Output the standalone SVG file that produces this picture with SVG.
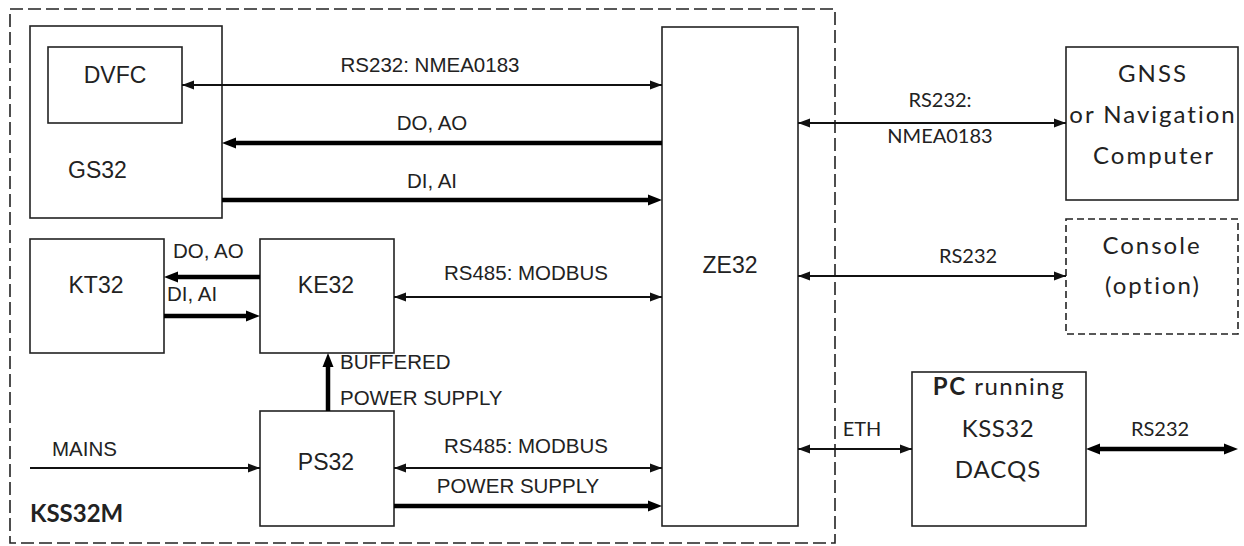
<svg xmlns="http://www.w3.org/2000/svg" width="1244" height="546" viewBox="0 0 1244 546">
<style>
.box{fill:#fff;stroke:#222;stroke-width:1.6}
.dash{fill:none;stroke:#222;stroke-width:1.6;stroke-dasharray:13 5}
.dash2{fill:#fff;stroke:#222;stroke-width:1.6;stroke-dasharray:7 4}
.thin{stroke:#111;stroke-width:2;fill:none}
.thick{stroke:#000;stroke-width:4.5;fill:none}
.a{font-family:"Liberation Sans",Arial,sans-serif;fill:#222}
.bl{font-size:23px}
.cl{font-size:20.5px}
.c{font-family:Lato,"Noto Sans",sans-serif;fill:#222}
.big{font-size:24px;letter-spacing:2px}
.mid{text-anchor:middle}
</style>
<defs>
<marker id="ah" markerUnits="userSpaceOnUse" markerWidth="14" markerHeight="10" refX="12" refY="5" orient="auto-start-reverse">
<path d="M0,0.5 L12,5 L0,9.5 z" fill="#111"/>
</marker>
<marker id="aht" markerUnits="userSpaceOnUse" markerWidth="16" markerHeight="12" refX="5" refY="6" orient="auto-start-reverse">
<path d="M0,0.5 L14,6 L0,11.5 z" fill="#000"/>
</marker>
</defs>
<rect width="1244" height="546" fill="#fff"/>
<g id="kss32m">
<rect class="dash" x="10" y="9" width="825" height="534"/>
<text class="c" x="30" y="522" font-size="24" font-weight="bold">KSS32M</text>
</g>
<g id="gs32">
<rect class="box" x="30" y="26" width="192" height="192"/>
<text class="a bl" x="68" y="178">GS32</text>
</g>
<g id="dvfc">
<rect class="box" x="48" y="47" width="134" height="76"/>
<text class="a bl mid" x="115" y="83">DVFC</text>
</g>
<g id="ze32">
<rect class="box" x="662" y="27" width="136" height="499"/>
<text class="a bl mid" x="730" y="273">ZE32</text>
</g>
<g id="kt32">
<rect class="box" x="30" y="239" width="134" height="114"/>
<text class="a bl mid" x="96" y="293">KT32</text>
</g>
<g id="ke32">
<rect class="box" x="260" y="239" width="134" height="114"/>
<text class="a bl mid" x="326" y="293">KE32</text>
</g>
<g id="ps32">
<rect class="box" x="260" y="411" width="134" height="115"/>
<text class="a bl mid" x="326" y="470">PS32</text>
</g>
<g id="gnss">
<rect class="box" x="1066" y="47" width="172" height="153"/>
<text class="c big mid" x="1153" y="82">GNSS</text>
<text class="c big mid" x="1153" y="123">or Navigation</text>
<text class="c big mid" x="1154" y="164">Computer</text>
</g>
<g id="console">
<rect class="dash2" x="1066" y="219" width="172" height="115"/>
<text class="c big mid" x="1152" y="254">Console</text>
<text class="c big mid" x="1153" y="294">(option)</text>
</g>
<g id="pc">
<rect class="box" x="912" y="372" width="174" height="154"/>
<text class="c mid" x="999" y="395" font-size="24" letter-spacing="1.5"><tspan font-weight="bold">PC</tspan> running</text>
<text class="c mid" x="998" y="437" font-size="24" letter-spacing="0.5">KSS32</text>
<text class="c mid" x="998" y="478" font-size="24" letter-spacing="1">DACQS</text>
</g>
<g id="connectors">
<line class="thin" x1="182" y1="85" x2="662" y2="85" marker-start="url(#ah)" marker-end="url(#ah)"/>
<text class="a cl mid" x="430" y="72">RS232: NMEA0183</text>
<line class="thick" x1="662" y1="143" x2="231" y2="143" marker-end="url(#aht)"/>
<text class="a cl mid" x="432" y="130">DO, AO</text>
<line class="thick" x1="222" y1="200" x2="653" y2="200" marker-end="url(#aht)"/>
<text class="a cl mid" x="432" y="188">DI, AI</text>
<line class="thick" x1="260" y1="277" x2="173" y2="277" marker-end="url(#aht)"/>
<text class="a cl" x="173" y="258">DO, AO</text>
<line class="thick" x1="164" y1="316" x2="251" y2="316" marker-end="url(#aht)"/>
<text class="a cl" x="167" y="301">DI, AI</text>
<line class="thin" x1="394" y1="297" x2="662" y2="297" marker-start="url(#ah)" marker-end="url(#ah)"/>
<text class="a cl mid" x="526" y="280">RS485: MODBUS</text>
<line class="thick" x1="328" y1="411" x2="328" y2="362" marker-end="url(#aht)"/>
<text class="a cl" x="340" y="369">BUFFERED</text>
<text class="a cl" x="340" y="405">POWER SUPPLY</text>
<line class="thin" x1="30" y1="468" x2="260" y2="468" marker-end="url(#ah)"/>
<text class="a cl" x="52" y="456">MAINS</text>
<line class="thin" x1="394" y1="468" x2="662" y2="468" marker-start="url(#ah)" marker-end="url(#ah)"/>
<text class="a cl mid" x="526" y="453">RS485: MODBUS</text>
<line class="thick" x1="394" y1="506" x2="653" y2="506" marker-end="url(#aht)"/>
<text class="a cl mid" x="518" y="493">POWER SUPPLY</text>
<line class="thin" x1="798" y1="123" x2="1066" y2="123" marker-start="url(#ah)" marker-end="url(#ah)"/>
<text class="c mid" x="940" y="107" font-size="20">RS232:</text>
<text class="c mid" x="940" y="143" font-size="20">NMEA0183</text>
<line class="thin" x1="798" y1="276" x2="1066" y2="276" marker-start="url(#ah)" marker-end="url(#ah)"/>
<text class="c mid" x="968" y="263" font-size="20">RS232</text>
<line class="thin" x1="798" y1="449" x2="912" y2="449" marker-start="url(#ah)" marker-end="url(#ah)"/>
<text class="c mid" x="862" y="436" font-size="20">ETH</text>
<line class="thick" x1="1095" y1="449" x2="1229" y2="449" marker-start="url(#aht)" marker-end="url(#aht)"/>
<text class="c mid" x="1160" y="436" font-size="20">RS232</text>
</g>
</svg>
